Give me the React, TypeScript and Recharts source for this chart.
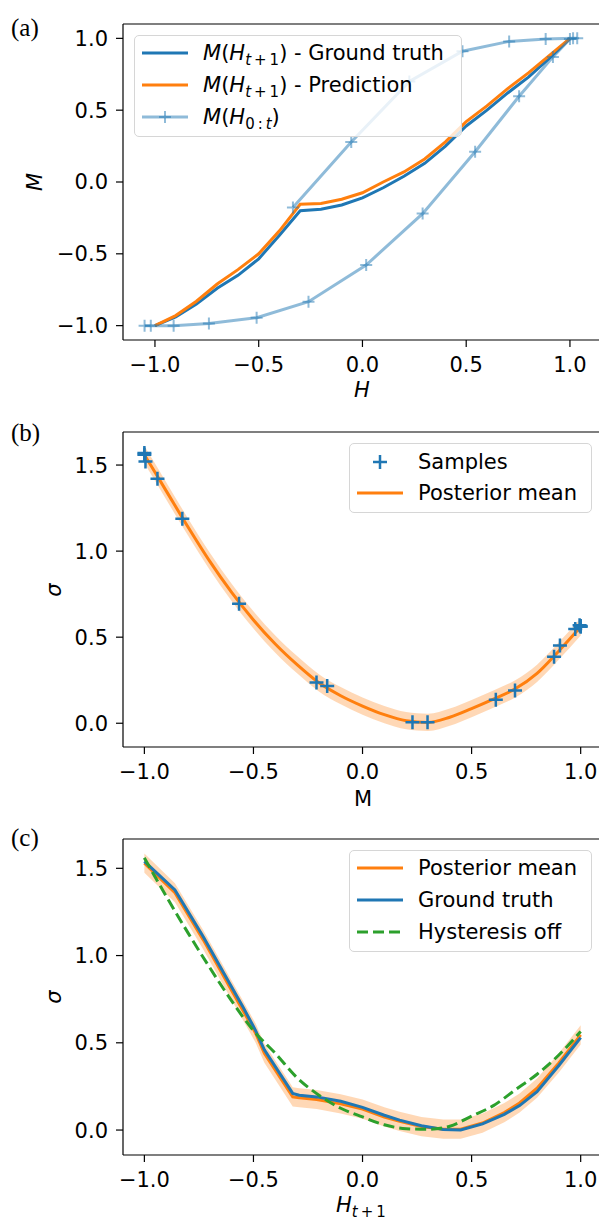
import { ComposedChart, Line, Area, Scatter, XAxis, YAxis, ReferenceLine } from 'recharts'

// (a) magnetisation loop
const gridH = [-1.0, -0.9, -0.8, -0.7, -0.6, -0.5, -0.4, -0.3, -0.2, -0.1, 0.0, 0.1, 0.2, 0.3, 0.4, 0.5, 0.6, 0.7, 0.8, 0.9, 1.0]
const truthM = [-1.0, -0.94, -0.85, -0.74, -0.65, -0.535, -0.37, -0.2, -0.19, -0.16, -0.11, -0.04, 0.04, 0.13, 0.25, 0.39, 0.5, 0.62, 0.73, 0.86, 1.0]
const predM = [-1.0, -0.93, -0.83, -0.71, -0.61, -0.5, -0.34, -0.155, -0.15, -0.12, -0.075, 0.0, 0.07, 0.16, 0.28, 0.42, 0.53, 0.65, 0.76, 0.88, 1.0]
const histH = [-1.05, -1.02, -0.91, -0.74, -0.51, -0.26, 0.018, 0.29, 0.543, 0.755, 0.918, 1.0, 1.035, 1.015, 0.883, 0.707, 0.482, 0.226, -0.054, -0.335]
const histM = [-1.0, -1.0, -1.0, -0.985, -0.945, -0.833, -0.578, -0.22, 0.211, 0.597, 0.871, 0.995, 1.0, 1.0, 0.996, 0.979, 0.91, 0.7, 0.278, -0.178]

// (b) sigma vs M
const sampleM = [-1.0, -1.0, -0.995, -0.94, -0.826, -0.566, -0.211, -0.162, 0.229, 0.298, 0.611, 0.699, 0.878, 0.905, 0.975, 0.995, 1.0, 1.0]
const sampleSigma = [1.57, 1.56, 1.52, 1.42, 1.188, 0.694, 0.236, 0.217, 0.006, 0.006, 0.136, 0.19, 0.387, 0.451, 0.547, 0.57, 0.565, 0.56]
const gridM = [-1.0, -0.9, -0.8, -0.7, -0.6, -0.5, -0.4, -0.3, -0.2, -0.1, 0.0, 0.1, 0.2, 0.3, 0.4, 0.5, 0.6, 0.7, 0.8, 0.9, 1.0]
const meanB = [1.56, 1.35, 1.14, 0.94, 0.76, 0.6, 0.46, 0.34, 0.235, 0.16, 0.1, 0.05, 0.015, 0.005, 0.035, 0.085, 0.14, 0.2, 0.29, 0.42, 0.56]
const lowB = [1.51, 1.3, 1.09, 0.89, 0.71, 0.55, 0.41, 0.29, 0.185, 0.11, 0.05, 0.0, -0.035, -0.045, -0.015, 0.035, 0.09, 0.15, 0.24, 0.37, 0.51]
const highB = [1.61, 1.4, 1.19, 0.99, 0.81, 0.65, 0.51, 0.39, 0.285, 0.21, 0.15, 0.1, 0.065, 0.055, 0.085, 0.135, 0.19, 0.25, 0.34, 0.47, 0.61]

// (c) sigma vs H_{t+1}
const gridC = [-1.0, -0.86, -0.73, -0.6, -0.55, -0.49, -0.45, -0.32, -0.29, -0.21, -0.1, 0.0, 0.1, 0.17, 0.27, 0.37, 0.45, 0.55, 0.65, 0.72, 0.8, 0.9, 1.0]
const truthC = [1.54, 1.376, 1.108, 0.82, 0.71, 0.57, 0.46, 0.21, 0.2, 0.19, 0.165, 0.13, 0.085, 0.057, 0.025, 0.003, 0.0, 0.035, 0.09, 0.14, 0.22, 0.37, 0.53]
const meanC = [1.53, 1.36, 1.09, 0.8, 0.69, 0.555, 0.44, 0.19, 0.185, 0.175, 0.15, 0.12, 0.075, 0.05, 0.02, 0.005, 0.005, 0.04, 0.1, 0.155, 0.24, 0.385, 0.545]
const lowC = [1.475, 1.305, 1.035, 0.745, 0.635, 0.5, 0.385, 0.135, 0.13, 0.12, 0.095, 0.065, 0.02, -0.005, -0.035, -0.05, -0.05, -0.015, 0.045, 0.1, 0.185, 0.33, 0.49]
const highC = [1.585, 1.415, 1.145, 0.855, 0.745, 0.61, 0.495, 0.245, 0.24, 0.23, 0.205, 0.175, 0.13, 0.105, 0.075, 0.06, 0.06, 0.095, 0.155, 0.21, 0.295, 0.44, 0.6]
const offH = [-1.0, -0.9, -0.8, -0.7, -0.6, -0.5, -0.4, -0.3, -0.2, -0.1, 0.0, 0.1, 0.2, 0.3, 0.4, 0.5, 0.6, 0.7, 0.8, 0.9, 1.0]
const offSigma = [1.56, 1.34, 1.13, 0.93, 0.74, 0.57, 0.44, 0.3, 0.2, 0.125, 0.075, 0.03, 0.008, 0.004, 0.022, 0.08, 0.14, 0.23, 0.32, 0.43, 0.565]

const ticksX = [-1, -0.5, 0, 0.5, 1]
const BLUE = '#1f77b4'
const ORANGE = '#ff7f0e'
const GREEN = '#2ca02c'
const FONT = '"DejaVu Sans", sans-serif'
const FS = 21

const pts = (xs: number[], ys: number[]) => xs.map((x, i) => ({ x, y: ys[i] }))
const fmt = (v: number) => v.toFixed(1).replace('-', '\u2212')

const tick = { fontSize: FS, fill: '#000', fontFamily: FONT }
const axisLine = { stroke: '#000', strokeWidth: 1.2 }

function plus(color: string, s: number, w: number, op = 1) {
  return (p: any) => {
    const { cx, cy } = p
    if (cx == null || cy == null) return <g key={p.index} />
    return (
      <path key={p.index} d={`M${cx - s},${cy}H${cx + s}M${cx},${cy - s}V${cy + s}`}
        stroke={color} strokeWidth={w} strokeOpacity={op} fill="none" />
    )
  }
}

function Axes({ xDom, yDom, yTicks, xHeight }: { xDom: number[]; yDom: number[]; yTicks: number[]; xHeight: number }) {
  return [
    <XAxis key="xb" dataKey="x" type="number" domain={xDom} ticks={ticksX} allowDataOverflow
      tickFormatter={fmt} tick={tick} tickSize={7} tickMargin={10} height={xHeight}
      axisLine={axisLine} tickLine={axisLine} />,
    <YAxis key="yl" type="number" domain={yDom} ticks={yTicks} allowDataOverflow
      tickFormatter={fmt} tick={tick} tickSize={7} tickMargin={8} width={123}
      axisLine={axisLine} tickLine={axisLine} />,
    <ReferenceLine key="top" y={yDom[1]} stroke="#000" strokeWidth={1.2} ifOverflow="visible" />,
  ]
}

const Sub = ({ children }: { children: any }) => (
  <span style={{ fontSize: 15, verticalAlign: -5, lineHeight: 0 }}>{children}</span>
)
const MHt = () => (
  <span><i>M</i>(<i>H</i><Sub><i>t</i>{'\u2009+\u2009'}1</Sub>)</span>
)

const legendBox = (left: number, top: number, width: number, height: number): any => ({
  position: 'absolute', left, top, width, height, boxSizing: 'border-box',
  background: 'rgba(255,255,255,0.8)', border: '1.5px solid #d6d6d6', borderRadius: 5,
  fontFamily: FONT, fontSize: FS, color: '#000',
})

function Row({ top, handle, children }: { top: number; handle: any; children: any }) {
  return (
    <div style={{ position: 'absolute', left: 0, top: top - 16, height: 32, width: '100%' }}>
      <div style={{ position: 'absolute', left: 6, top: 0, width: 48, height: 32 }}>{handle}</div>
      <div style={{ position: 'absolute', left: 68, top: 0, height: 32, lineHeight: '32px', whiteSpace: 'nowrap' }}>{children}</div>
    </div>
  )
}

const lineHandle = (color: string, op = 1, dash?: string, marker = false) => (
  <svg width={48} height={32}>
    <line x1={1} x2={47} y1={16} y2={16} stroke={color} strokeOpacity={op} strokeWidth={3} strokeDasharray={dash} />
    {marker && <path d="M24,10V22M18,16H30" stroke={color} strokeOpacity={op} strokeWidth={2} />}
  </svg>
)

const label = (style: any, children: any) => (
  <div style={{ position: 'absolute', fontFamily: FONT, fontSize: FS, color: '#000', lineHeight: 1, whiteSpace: 'nowrap', ...style }}>{children}</div>
)
const panelTag = (top: number, t: string) => (
  <div style={{ position: 'absolute', left: 11, top, fontFamily: '"Liberation Serif", serif', fontSize: 25, lineHeight: 1 }}>{t}</div>
)
const yLabel = (cx: number, cy: number, children: any) => (
  <div style={{ position: 'absolute', left: cx - 20, top: cy - 12, width: 40, height: 24, textAlign: 'center',
    fontFamily: FONT, fontSize: FS, lineHeight: '24px', transform: 'rotate(-90deg)' }}>{children}</div>
)

export default function App() {
  const truthA = pts(gridH, truthM)
  const predA = pts(gridH, predM)
  const histA = pts(histH, histM)
  const samples = pts(sampleM, sampleSigma)
  const bandB = gridM.map((x, i) => ({ x, mean: meanB[i], range: [lowB[i], highB[i]] }))
  const bandC = gridC.map((x, i) => ({ x, mean: meanC[i], range: [lowC[i], highC[i]] }))
  const truthCpts = pts(gridC, truthC)
  const offPts = pts(offH, offSigma)

  return (
    <div style={{ position: 'absolute', left: 0, top: 0, width: 599, height: 1222, background: '#fff', overflow: 'hidden' }}>
      {/* (a) */}
      <div style={{ position: 'absolute', left: 0, top: 0 }}>
        <ComposedChart width={599} height={400} margin={{ top: 24, right: 0, bottom: 0, left: 0 }}>
          {Axes({ xDom: [-1.154, 1.14], yDom: [-1.1, 1.1], yTicks: [-1, -0.5, 0, 0.5, 1], xHeight: 60 })}
          <Line data={truthA} dataKey="y" stroke={BLUE} strokeWidth={3} dot={false} isAnimationActive={false} />
          <Line data={predA} dataKey="y" stroke={ORANGE} strokeWidth={3} dot={false} isAnimationActive={false} />
          <Line data={histA} dataKey="y" stroke={BLUE} strokeOpacity={0.5} strokeWidth={3}
            dot={plus(BLUE, 6, 2, 0.5)} isAnimationActive={false} />
        </ComposedChart>
      </div>
      {/* (b) */}
      <div style={{ position: 'absolute', left: 0, top: 400 }}>
        <ComposedChart width={599} height={400} data={bandB} margin={{ top: 32, right: 0, bottom: 0, left: 0 }}>
          {Axes({ xDom: [-1.098, 1.084], yDom: [-0.138, 1.692], yTicks: [0, 0.5, 1, 1.5], xHeight: 53 })}
          <Area dataKey="range" type="monotone" stroke="none" fill={ORANGE} fillOpacity={0.3} isAnimationActive={false} />
          <Line dataKey="mean" type="monotone" stroke={ORANGE} strokeWidth={3} dot={false} isAnimationActive={false} />
          <Scatter data={samples} dataKey="y" shape={plus(BLUE, 7, 2.5)} isAnimationActive={false} />
        </ComposedChart>
      </div>
      {/* (c) */}
      <div style={{ position: 'absolute', left: 0, top: 810 }}>
        <ComposedChart width={599} height={400} data={bandC} margin={{ top: 29, right: 0, bottom: 0, left: 0 }}>
          {Axes({ xDom: [-1.098, 1.084], yDom: [-0.143, 1.668], yTicks: [0, 0.5, 1, 1.5], xHeight: 55 })}
          <Area dataKey="range" type="linear" stroke="none" fill={ORANGE} fillOpacity={0.3} isAnimationActive={false} />
          <Line dataKey="mean" stroke={ORANGE} strokeWidth={3} dot={false} isAnimationActive={false} />
          <Line data={truthCpts} dataKey="y" stroke={BLUE} strokeWidth={3} dot={false} isAnimationActive={false} />
          <Line data={offPts} dataKey="y" type="monotone" stroke={GREEN} strokeWidth={3} strokeDasharray="11 5" dot={false} isAnimationActive={false} />
        </ComposedChart>
      </div>

      {panelTag(15, '(a)')}
      {panelTag(420, '(b)')}
      {panelTag(825, '(c)')}

      {yLabel(35, 182, <i>M</i>)}
      {yLabel(54, 590, <i>σ</i>)}
      {yLabel(54, 997, <i>σ</i>)}

      {label({ left: 354, top: 380 }, <i>H</i>)}
      {label({ left: 354, top: 789 }, 'M')}
      {label({ left: 336, top: 1195 }, <span><i>H</i><Sub><i>t</i>{'\u2009+\u2009'}1</Sub></span>)}

      <div style={legendBox(134, 35, 328, 102)}>
        <Row top={17} handle={lineHandle(BLUE)}><MHt /> - Ground truth</Row>
        <Row top={49} handle={lineHandle(ORANGE)}><MHt /> - Prediction</Row>
        <Row top={81} handle={lineHandle(BLUE, 0.5, undefined, true)}><span><i>M</i>(<i>H</i><Sub>0{'\u2009:\u2009'}<i>t</i></Sub>)</span></Row>
      </div>

      <div style={legendBox(349, 443, 243, 70)}>
        <Row top={18} handle={<svg width={48} height={32}><path d="M24,9V23M17,16H31" stroke={BLUE} strokeWidth={2.5} /></svg>}>Samples</Row>
        <Row top={49} handle={lineHandle(ORANGE)}>Posterior mean</Row>
      </div>

      <div style={legendBox(349, 850, 243, 102)}>
        <Row top={17} handle={lineHandle(ORANGE)}>Posterior mean</Row>
        <Row top={49} handle={lineHandle(BLUE)}>Ground truth</Row>
        <Row top={81} handle={lineHandle(GREEN, 1, '11 5')}>Hysteresis off</Row>
      </div>
    </div>
  )
}
